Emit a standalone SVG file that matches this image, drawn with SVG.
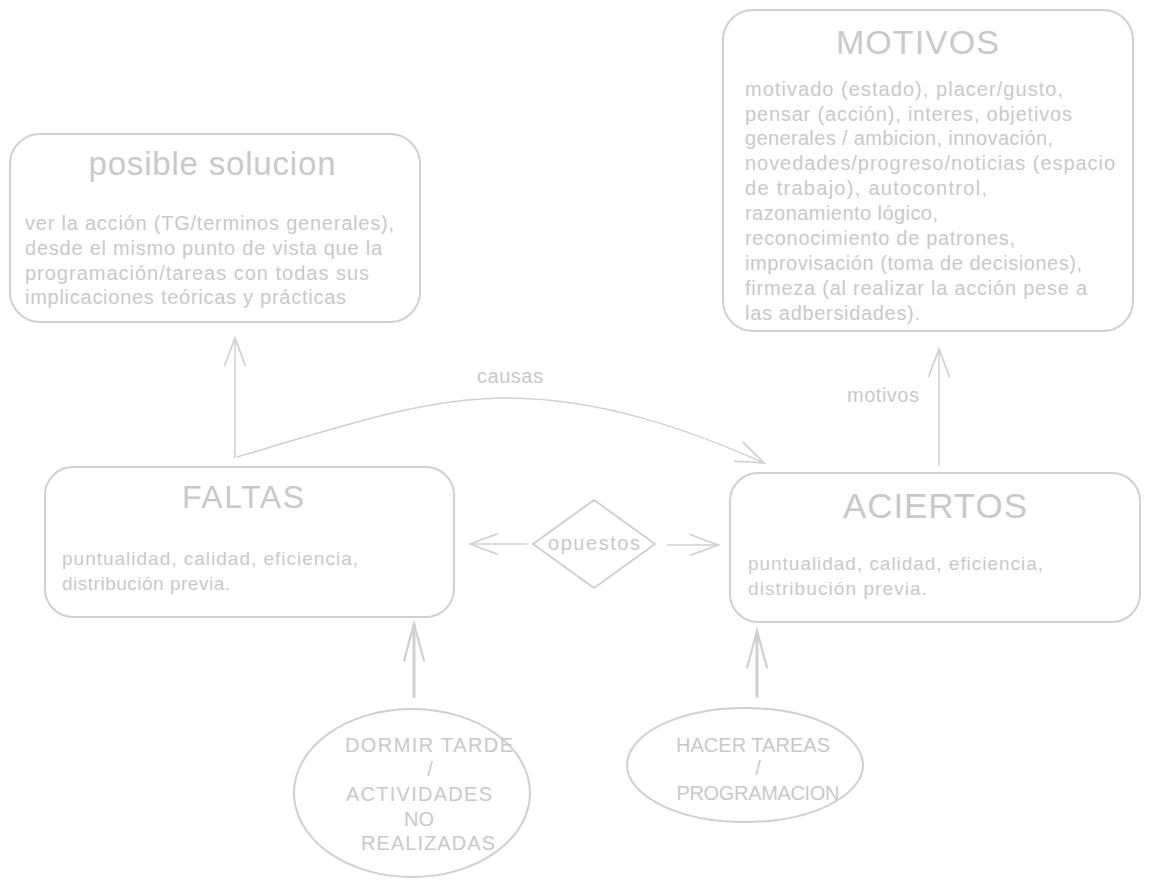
<svg xmlns="http://www.w3.org/2000/svg" width="1149" height="886" viewBox="0 0 1149 886">
<style>
.box{fill:none;stroke:#d0d0d0;stroke-width:2}
.t{font-family:"Liberation Sans","DejaVu Sans",sans-serif;fill:#c9c9c9}
.title{text-anchor:middle}
.body{font-size:20px}
.cap{font-size:20px;text-anchor:middle}
.lbl{font-size:20px;text-anchor:middle}
.con{fill:none;stroke:#d0d0d0;stroke-width:1.5}
.thick{stroke-width:3}
</style>
<defs>
<marker id="ah" markerUnits="userSpaceOnUse" markerWidth="40" markerHeight="40" refX="0" refY="0" orient="auto" overflow="visible" viewBox="-30 -15 35 30">
<path d="M-24,-9 L0,0 L-24,9" fill="none" stroke="#d0d0d0" stroke-width="1.5" stroke-linecap="round"/>
</marker>
<marker id="ahT" markerUnits="userSpaceOnUse" markerWidth="50" markerHeight="40" refX="0" refY="0" orient="auto" overflow="visible" viewBox="-40 -15 45 30">
<path d="M-33,-9 L0,0 L-33,9" fill="none" stroke="#d0d0d0" stroke-width="2" stroke-linecap="round"/>
</marker>
</defs>
<rect width="1149" height="886" fill="#ffffff"/>

<g id="connectors">
<path class="con" d="M235,458 L235,338" marker-end="url(#ah)"/>
<path class="con" d="M237,457 C330,430 420,398 506,398 C600,398 690,430 764,463" marker-end="url(#ah)"/>
<text class="t lbl" x="510" y="383" textLength="66">causas</text>
<path class="con" d="M939,466 L939,349" marker-end="url(#ah)"/>
<text class="t lbl" x="883" y="402" textLength="72">motivos</text>
<path class="con" d="M527,544 L470,544" marker-end="url(#ah)"/>
<path class="con" d="M667,545 L718,545" marker-end="url(#ah)"/>
<path class="con thick" d="M414,698 L414,624" marker-end="url(#ahT)"/>
<path class="con thick" d="M757,698 L757,631" marker-end="url(#ahT)"/>
</g>

<g id="posible-solucion">
<rect class="box" x="10" y="134" width="410" height="188" rx="30"/>
<text class="t title" x="212" y="175" font-size="33" textLength="247">posible solucion</text>
<text class="t body" x="25" y="230" textLength="369">ver la acción (TG/terminos generales),</text>
<text class="t body" x="25" y="255" textLength="357">desde el mismo punto de vista que la</text>
<text class="t body" x="25" y="280" textLength="344">programación/tareas con todas sus</text>
<text class="t body" x="25" y="304" textLength="321">implicaciones teóricas y prácticas</text>
</g>

<g id="motivos">
<rect class="box" x="723" y="10" width="410" height="321" rx="30"/>
<text class="t" x="836" y="54" font-size="34" textLength="163">MOTIVOS</text>
<text class="t body" x="745" y="96" textLength="318">motivado (estado), placer/gusto,</text>
<text class="t body" x="745" y="121" textLength="327">pensar (acción), interes, objetivos</text>
<text class="t body" x="745" y="145" textLength="308">generales / ambicion, innovación,</text>
<text class="t body" x="745" y="170" textLength="370">novedades/progreso/noticias (espacio</text>
<text class="t body" x="745" y="195" textLength="242">de trabajo), autocontrol,</text>
<text class="t body" x="745" y="220" textLength="193">razonamiento lógico,</text>
<text class="t body" x="745" y="245" textLength="270">reconocimiento de patrones,</text>
<text class="t body" x="745" y="270" textLength="337">improvisación (toma de decisiones),</text>
<text class="t body" x="745" y="295" textLength="342">firmeza (al realizar la acción pese a</text>
<text class="t body" x="745" y="320" textLength="175">las adbersidades).</text>
</g>

<g id="faltas">
<rect class="box" x="45" y="467" width="409" height="150" rx="28"/>
<text class="t" x="182" y="508" font-size="32" textLength="122">FALTAS</text>
<text class="t" x="62" y="565" font-size="19" textLength="296">puntualidad, calidad, eficiencia,</text>
<text class="t" x="62" y="590" font-size="19" textLength="168">distribución previa.</text>
</g>

<g id="opuestos">
<path class="box" d="M594,500 L655,544 L594,588 L533,544 Z" stroke-linejoin="round"/>
<text class="t lbl" x="594" y="550" font-size="21" textLength="92">opuestos</text>
</g>

<g id="aciertos">
<rect class="box" x="730" y="473" width="410" height="149" rx="28"/>
<text class="t" x="843" y="518" font-size="35" textLength="184">ACIERTOS</text>
<text class="t" x="748" y="570" font-size="19" textLength="295">puntualidad, calidad, eficiencia,</text>
<text class="t" x="748" y="595" font-size="19" textLength="179">distribución previa.</text>
</g>

<g id="dormir-tarde">
<ellipse class="box" cx="412" cy="793" rx="118" ry="84"/>
<text class="t cap" x="429" y="752" textLength="168">DORMIR TARDE</text>
<text class="t cap" x="430" y="776">/</text>
<text class="t cap" x="419" y="801" textLength="146">ACTIVIDADES</text>
<text class="t cap" x="419" y="826">NO</text>
<text class="t cap" x="428" y="850" textLength="134">REALIZADAS</text>
</g>

<g id="hacer-tareas">
<ellipse class="box" cx="745" cy="765" rx="118" ry="57"/>
<text class="t cap" x="753" y="752" textLength="154">HACER TAREAS</text>
<text class="t cap" x="758" y="775">/</text>
<text class="t cap" x="758" y="800" textLength="163">PROGRAMACION</text>
</g>
</svg>
